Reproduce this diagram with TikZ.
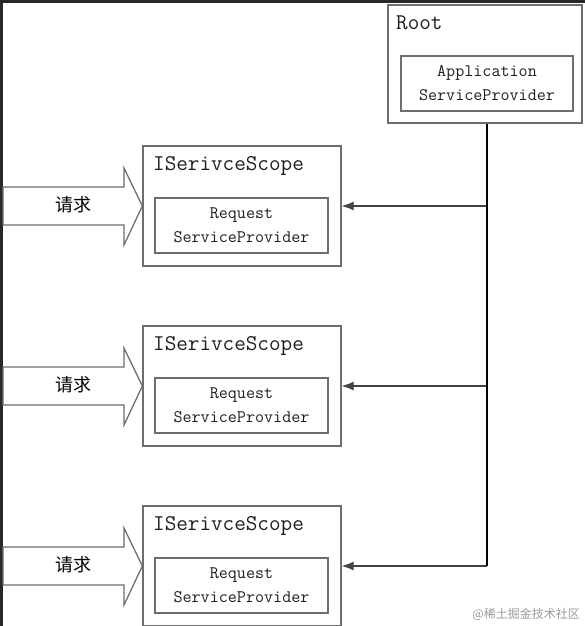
\documentclass[tikz,border=0pt]{standalone}
\usepackage{fontspec}
\newfontfamily\cjkfont{Noto Sans CJK SC}
\usetikzlibrary{arrows.meta, positioning}
\definecolor{scline}{RGB}{110,110,110}
\definecolor{sctext}{RGB}{30,30,30}
\definecolor{scframe}{RGB}{40,40,40}
\tikzset{
    outerbox/.style={draw=scline, line width=1.3pt, minimum width=198pt, minimum height=120pt, inner sep=0pt},
    innerbox/.style={draw=scline, line width=1.3pt, minimum width=173pt, minimum height=55pt, inner sep=0pt,
                     align=center, font=\ttfamily\fontsize{17.6}{24}\selectfont, text=sctext},
    scopetitle/.style={anchor=west, inner sep=0pt, font=\ttfamily\fontsize{22.5}{24}\selectfont, text=sctext},
    reqarrow/.style={draw=scline, line width=1.3pt, fill=white},
    reqlbl/.style={font=\cjkfont\fontsize{18}{20}\selectfont, text=black},
    arrow/.style={-{Latex[length=12pt, width=9pt]}, line width=1.3pt, draw=scline!60!black},
    trunk/.style={line width=1.8pt, black},
    wmark/.style={font=\cjkfont\fontsize{12}{14}\selectfont, text=black!40, inner sep=0pt},
}

\begin{document}
\begin{tikzpicture}[x=1pt, y=-1pt]
    \useasboundingbox (0,0) rectangle (585,626);
    % screenshot frame
    \draw[scframe, line width=3pt] (1.5,626) -- (1.5,1.5) -- (585,1.5);
    % root provider
    \node[outerbox, minimum width=194pt, minimum height=118pt] (root) at (485,64) {};
    \node[scopetitle] (roottitle) at (396,23) {Root};
    \node[innerbox, minimum width=172pt] (app) at (487,83.5) {Application\\ServiceProvider};
    % one scope per request
    \foreach \i in {0,1,2} {
        \pgfmathsetmacro\cy{206+180*\i}
        \node[outerbox] (scope\i) at (242,\cy) {};
        \node[scopetitle] (scopetitle\i) at (153,\cy-40) {ISerivceScope};
        \node[innerbox] (req\i) at (241.5,\cy+19.5) {Request\\ServiceProvider};
        \draw[reqarrow] (3,\cy-19) -- (124,\cy-19) -- (124,\cy-38) -- (scope\i.west)
            -- (124,\cy+39) -- (124,\cy+19) -- (3,\cy+19) -- cycle;
        \node[reqlbl] (ask\i) at (73,\cy-1) {请求};
        \coordinate (tap\i) at (487,\cy);
        \draw[arrow] (tap\i) -- (scope\i.east);
    }
    \draw[trunk] (root.south -| tap0) -- (tap2);
    \node[wmark, anchor=east] (watermark) at (580,614) {@稀土掘金技术社区};
\end{tikzpicture}
\end{document}
